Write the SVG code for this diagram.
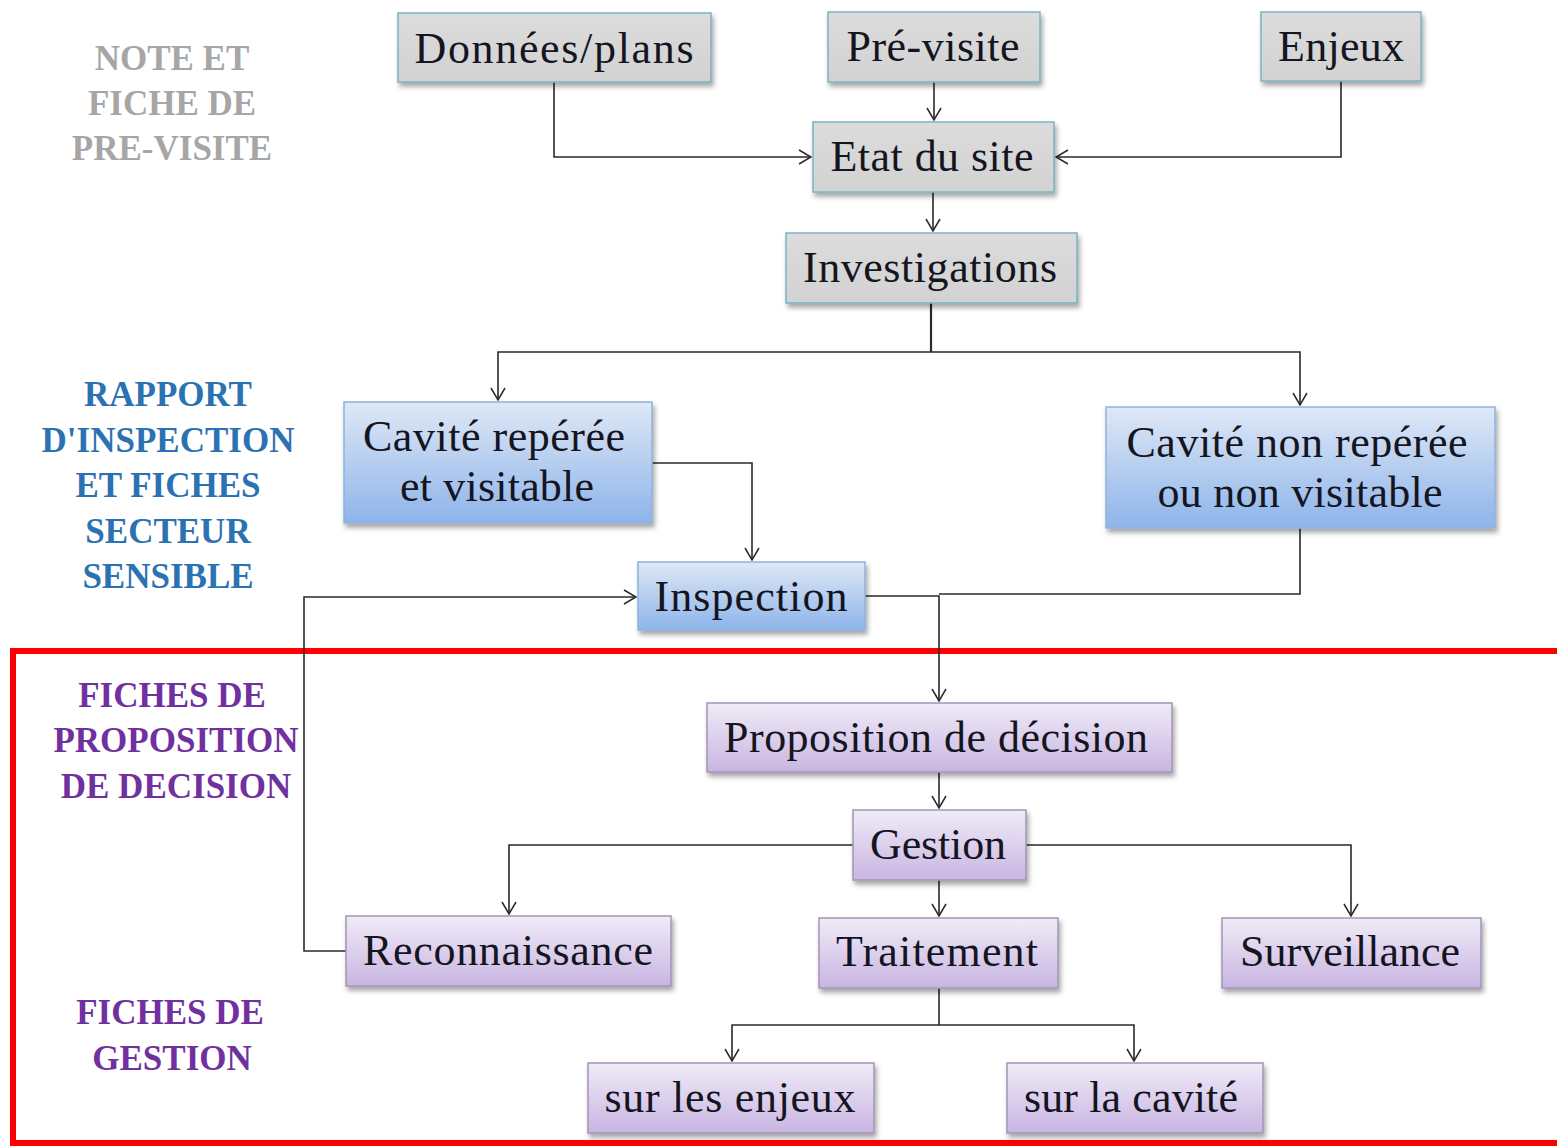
<svg xmlns="http://www.w3.org/2000/svg" width="1557" height="1147" viewBox="0 0 1557 1147">
<style>
.box text{font-family:"Liberation Serif","Times New Roman",serif;font-size:44px;fill:#15151f;text-anchor:middle}
.g rect{fill:url(#gGray);stroke:#79b3c2;stroke-width:1.5}
.b rect{fill:url(#gBlue);stroke:#8fb2dc;stroke-width:1.5}
.p rect{fill:url(#gPurp);stroke:#a395b5;stroke-width:1.5}
.lab{font-family:"Liberation Serif","Times New Roman",serif;font-weight:bold;font-size:35px;text-anchor:middle}
.conn path{fill:none;stroke:#2a2a2a;stroke-width:1.6}
</style>
<defs>
<linearGradient id="gGray" x1="0" y1="0" x2="0" y2="1"><stop offset="0" stop-color="#dcdcdc"/><stop offset="1" stop-color="#d2d2d2"/></linearGradient>
<linearGradient id="gBlue" x1="0" y1="0" x2="0" y2="1"><stop offset="0" stop-color="#dfe8f6"/><stop offset="1" stop-color="#8db4ea"/></linearGradient>
<linearGradient id="gPurp" x1="0" y1="0" x2="0" y2="1"><stop offset="0" stop-color="#f0ebf7"/><stop offset="1" stop-color="#c8b5e2"/></linearGradient>
<filter id="sh" x="-10%" y="-20%" width="120%" height="150%"><feDropShadow dx="2" dy="4" stdDeviation="2.5" flood-color="#000" flood-opacity="0.35"/></filter>
<marker id="ar" viewBox="0 0 14 16" refX="13" refY="8" markerWidth="14" markerHeight="16" markerUnits="userSpaceOnUse" orient="auto"><path d="M1,1 L13,8 L1,15" fill="none" stroke="#2a2a2a" stroke-width="1.5"/></marker>
</defs>
<rect width="1557" height="1147" fill="#fff"/>

<text class="lab" fill="#a6a6a6"><tspan x="172" y="70">NOTE ET</tspan><tspan x="172" y="115">FICHE DE</tspan><tspan x="172" y="160">PRE-VISITE</tspan></text>
<text class="lab" fill="#2b72b2"><tspan x="168" y="406">RAPPORT</tspan><tspan x="168" y="452">D'INSPECTION</tspan><tspan x="168" y="497">ET FICHES</tspan><tspan x="168" y="543">SECTEUR</tspan><tspan x="168" y="588">SENSIBLE</tspan></text>
<text class="lab" fill="#7030a0"><tspan x="172" y="707">FICHES DE</tspan><tspan x="176" y="752">PROPOSITION</tspan><tspan x="176" y="798">DE DECISION</tspan></text>
<text class="lab" fill="#7030a0"><tspan x="170" y="1024">FICHES DE</tspan><tspan x="172" y="1070">GESTION</tspan></text>

<rect x="13" y="651" width="1560" height="492" fill="none" stroke="#ff0000" stroke-width="6"/>

<g class="conn">
<path d="M554,82 V157 H811" marker-end="url(#ar)"/>
<path d="M934,82 V120" marker-end="url(#ar)"/>
<path d="M1341,81 V157 H1056" marker-end="url(#ar)"/>
<path d="M933,192 V231" marker-end="url(#ar)"/>
<path d="M931,303 V352" style="stroke-width:2.2"/>
<path d="M931,352 H498 V400" marker-end="url(#ar)"/>
<path d="M931,352 H1300 V405" marker-end="url(#ar)"/>
<path d="M652,463 H752 V560" marker-end="url(#ar)"/>
<path d="M1300,528 V594 H939"/>
<path d="M865,596 H939 V701" marker-end="url(#ar)"/>
<path d="M346,951 H304 V597 H636" marker-end="url(#ar)"/>
<path d="M939,772 V808" marker-end="url(#ar)"/>
<path d="M853,845 H509 V914" marker-end="url(#ar)"/>
<path d="M1026,845 H1351 V916" marker-end="url(#ar)"/>
<path d="M939,880 V916" marker-end="url(#ar)"/>
<path d="M939,988 V1025"/>
<path d="M939,1025 H732 V1061" marker-end="url(#ar)"/>
<path d="M939,1025 H1134 V1061" marker-end="url(#ar)"/>
</g>

<g id="n-donnees" class="box g"><rect x="398" y="13" width="313" height="69" filter="url(#sh)"/><text x="554" y="63" textLength="279" lengthAdjust="spacing">Données/plans</text></g>
<g id="n-previsite" class="box g"><rect x="828" y="12" width="212" height="70" filter="url(#sh)"/><text x="933" y="61" textLength="173" lengthAdjust="spacing">Pré-visite</text></g>
<g id="n-enjeux" class="box g"><rect x="1261" y="12" width="160" height="69" filter="url(#sh)"/><text x="1341" y="61" textLength="126" lengthAdjust="spacing">Enjeux</text></g>
<g id="n-etat" class="box g"><rect x="813" y="122" width="241" height="70" filter="url(#sh)"/><text x="932" y="171" textLength="203" lengthAdjust="spacing">Etat du site</text></g>
<g id="n-invest" class="box g"><rect x="786" y="233" width="291" height="70" filter="url(#sh)"/><text x="930" y="282" textLength="254" lengthAdjust="spacing">Investigations</text></g>

<g id="n-cavrep" class="box b"><rect x="344" y="402" width="308" height="121" filter="url(#sh)"/><text x="494" y="451" textLength="262" lengthAdjust="spacing">Cavité repérée</text><text x="497" y="501" textLength="194" lengthAdjust="spacing">et visitable</text></g>
<g id="n-cavnonrep" class="box b"><rect x="1106" y="407" width="389" height="121" filter="url(#sh)"/><text x="1297" y="457" textLength="341" lengthAdjust="spacing">Cavité non repérée</text><text x="1300" y="507" textLength="285" lengthAdjust="spacing">ou non visitable</text></g>
<g id="n-inspection" class="box b"><rect x="638" y="562" width="227" height="68" filter="url(#sh)"/><text x="751" y="611" textLength="193" lengthAdjust="spacing">Inspection</text></g>

<g id="n-proposition" class="box p"><rect x="707" y="703" width="465" height="69" filter="url(#sh)"/><text x="936" y="752" textLength="424" lengthAdjust="spacing">Proposition de décision</text></g>
<g id="n-gestion" class="box p"><rect x="853" y="810" width="173" height="70" filter="url(#sh)"/><text x="938" y="859" textLength="136" lengthAdjust="spacing">Gestion</text></g>
<g id="n-reco" class="box p"><rect x="346" y="916" width="325" height="70" filter="url(#sh)"/><text x="508" y="965" textLength="290" lengthAdjust="spacing">Reconnaissance</text></g>
<g id="n-traitement" class="box p"><rect x="819" y="918" width="239" height="70" filter="url(#sh)"/><text x="937" y="966" textLength="202" lengthAdjust="spacing">Traitement</text></g>
<g id="n-surveillance" class="box p"><rect x="1222" y="918" width="259" height="70" filter="url(#sh)"/><text x="1350" y="966" textLength="220" lengthAdjust="spacing">Surveillance</text></g>
<g id="n-surenjeux" class="box p"><rect x="588" y="1063" width="286" height="70" filter="url(#sh)"/><text x="730" y="1112" textLength="251" lengthAdjust="spacing">sur les enjeux</text></g>
<g id="n-surcavite" class="box p"><rect x="1007" y="1063" width="256" height="70" filter="url(#sh)"/><text x="1131" y="1112" textLength="214" lengthAdjust="spacing">sur la cavité</text></g>
</svg>
